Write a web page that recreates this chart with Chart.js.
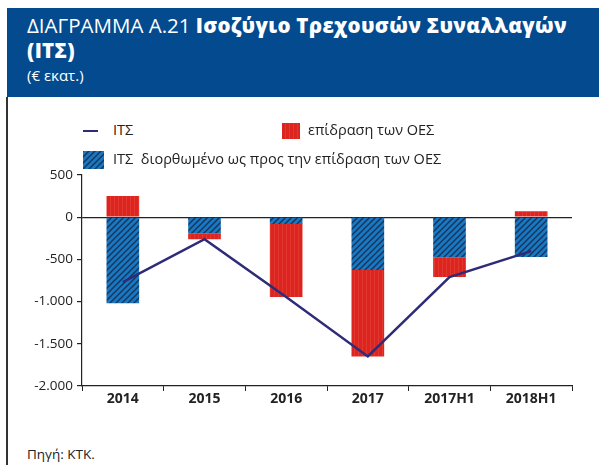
<!DOCTYPE html>
<html>
<head>
<meta charset="utf-8">
<script src="https://cdn.jsdelivr.net/npm/chart.js@4"></script>
<style>
  body { margin: 0; background: #fff; font-family: "Open Sans", "Noto Sans", sans-serif; }
  #page { position: relative; width: 599px; height: 465px; overflow: hidden; }
  #head { position: absolute; left: 7px; top: 8px; width: 592px; height: 89px; background: #034a8f; color: #fff; }
  #t1 { position: absolute; left: 20px; top: 5px; font-size: 20.5px; line-height: 25px; white-space: nowrap; }
  #t1 b { font-weight: 800; letter-spacing: 0.3px; }
  #t2 { position: absolute; left: 20px; top: 57px; font-size: 15px; }
  #border { position: absolute; left: 6px; top: 97px; width: 2px; height: 368px; background: #333; }
  .lg { position: absolute; font-size: 14.5px; color: #222; white-space: nowrap; }
  #src { position: absolute; left: 27px; top: 445px; font-size: 13.5px; color: #222; }
  #wrap { position: absolute; left: 7px; top: 160px; width: 570px; height: 256px; }
</style>
</head>
<body>
<div id="page">
  <div id="head">
    <div id="t1">ΔΙΑΓΡΑΜΜΑ Α.21 <b>Ισοζύγιο Τρεχουσών Συναλλαγών<br>(ΙΤΣ)</b></div>
    <div id="t2">(€ εκατ.)</div>
  </div>
  <div id="border"></div>

  <div class="lg" style="left:83px; top:120px;"><span style="display:inline-block;width:15px;height:2px;background:#2e2b78;vertical-align:middle;margin-right:15px;"></span>ΙΤΣ</div>
  <div class="lg" style="left:282px; top:120px;"><canvas id="swRed" width="18" height="16" style="vertical-align:middle;margin-right:8px;"></canvas>επίδραση των ΟΕΣ</div>
  <div class="lg" style="left:83px; top:149px;"><canvas id="swBlue" width="21" height="18" style="vertical-align:middle;margin-right:9px;"></canvas>ΙΤΣ&nbsp; διορθωμένο ως προς την επίδραση των ΟΕΣ</div>

  <div id="wrap"><canvas id="chart"></canvas></div>
  <div id="src">Πηγή: ΚΤΚ.</div>
</div>

<script>
// data (€ million)
const categories = ["2014", "2015", "2016", "2017", "2017H1", "2018H1"];
const corrected = [-1020, -190, -80, -625, -475, -473];   // ΙΤΣ διορθωμένο
const oesEffect = [250, -70, -865, -1025, -235, 71];      // επίδραση των ΟΕΣ
const its = [-770, -260, -945, -1650, -710, -402];        // ΙΤΣ
const yTicks = [500, 0, -500, -1000, -1500, -2000];

function hatchPattern(ctx) {
    const c = document.createElement("canvas");
    c.width = 6; c.height = 6;
    const g = c.getContext("2d");
    g.fillStyle = "#1b78c0";
    g.fillRect(0, 0, 6, 6);
    g.strokeStyle = "#11365f";
    g.lineWidth = 1.5;
    for (let k = -1; k <= 1; k++) {
        g.beginPath();
        g.moveTo(k * 6 - 1, 7);
        g.lineTo(k * 6 + 7, -1);
        g.stroke();
    }
    return ctx.createPattern(c, "repeat");
}

function redPattern(ctx) {
    const c = document.createElement("canvas");
    c.width = 4; c.height = 4;
    const g = c.getContext("2d");
    g.fillStyle = "#dc2420";
    g.fillRect(0, 0, 4, 4);
    g.fillStyle = "#e3362f";
    g.fillRect(3, 0, 1, 4);
    return ctx.createPattern(c, "repeat");
}

// legend swatches
const sb = document.getElementById("swBlue").getContext("2d");
sb.fillStyle = hatchPattern(sb); sb.fillRect(0, 0, 21, 18);
const sr = document.getElementById("swRed").getContext("2d");
sr.fillStyle = redPattern(sr); sr.fillRect(0, 0, 18, 16);

function fmt(v) {
    return v.toLocaleString("de-DE");
}

const ctx = document.getElementById("chart").getContext("2d");
new Chart(ctx, {
    type: "bar",
    data: {
        labels: categories,
        datasets: [
            {
                type: "line",
                label: "ΙΤΣ",
                data: its,
                borderColor: "#2e2b78",
                borderWidth: 2.5,
                pointRadius: 0,
                tension: 0,
                fill: false,
                stack: "line",
                order: 0
            },
            {
                label: "ΙΤΣ διορθωμένο ως προς την επίδραση των ΟΕΣ",
                data: corrected,
                backgroundColor: hatchPattern(ctx),
                stack: "bars",
                order: 1,
                barPercentage: 0.4,
                categoryPercentage: 1
            },
            {
                label: "επίδραση των ΟΕΣ",
                data: oesEffect,
                backgroundColor: redPattern(ctx),
                stack: "bars",
                order: 1,
                barPercentage: 0.4,
                categoryPercentage: 1
            }
        ]
    },
    options: {
        responsive: true,
        maintainAspectRatio: false,
        animation: false,
        layout: { padding: { top: 15, right: 5, left: 0, bottom: 0 } },
        plugins: {
            legend: { display: false },
            tooltip: { enabled: false }
        },
        scales: {
            x: {
                stacked: true,
                border: { display: true, color: "#222", width: 1.2 },
                grid: {
                    offset: true,
                    drawOnChartArea: false,
                    drawTicks: true,
                    tickLength: 5,
                    tickColor: "#222"
                },
                ticks: {
                    color: "#222",
                    font: { family: "Open Sans", size: 14, weight: "bold" },
                    padding: 0,
                    maxRotation: 0
                },
                afterFit: function (scale) { scale.height = 30; }
            },
            y: {
                stacked: true,
                min: -2000,
                max: 500,
                afterBuildTicks: function (scale) {
                    scale.ticks = yTicks.map(v => ({ value: v }));
                },
                border: { display: true, color: "#222", width: 1.2 },
                grid: {
                    color: c => (c.tick && c.tick.value === 0 ? "#222" : "transparent"),
                    lineWidth: 1.2,
                    tickLength: 5,
                    tickColor: "#222"
                },
                ticks: {
                    color: "#222",
                    font: { family: "Open Sans", size: 13.5 },
                    padding: 4,
                    callback: v => fmt(v)
                },
                afterFit: function (scale) { scale.width = 75; }
            }
        }
    }
});
</script>
</body>
</html>
